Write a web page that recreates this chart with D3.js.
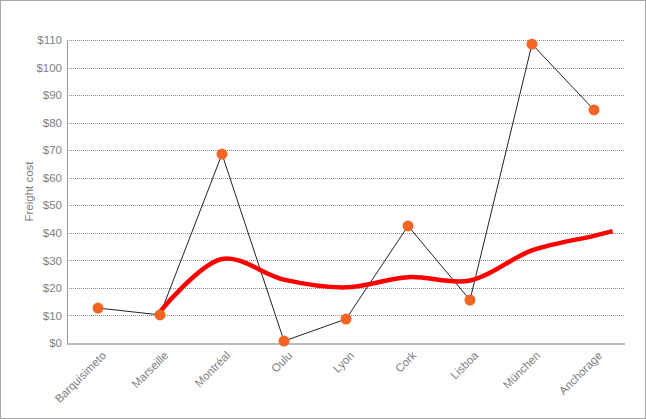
<!DOCTYPE html>
<html>
<head>
<meta charset="utf-8">
<script src="https://cdn.jsdelivr.net/npm/d3@7"></script>
<style>
    body { margin: 0; background: #fff; }
    svg { display: block; font-family: "Liberation Sans", Arial, sans-serif; }
</style>
</head>
<body>
<svg id="chart_svg" width="646" height="419"></svg>
<script>
// values
const cities = ["Barquisimeto", "Marseille", "Montréal", "Oulu", "Lyon", "Cork", "Lisboa", "München", "Anchorage"];
const freight = [12.7, 10.2, 68.6, 0.7, 8.7, 42.5, 15.6, 108.5, 84.6];
// red trend line: category position (index, last one runs a bit past Anchorage) and value
const trendIdx = [1, 2, 3, 4, 5, 6, 7, 8, 8.3];
const trend = [11.4, 30.5, 23.0, 20.2, 23.9, 22.7, 33.6, 38.9, 40.6];
const yTicks = [0, 10, 20, 30, 40, 50, 60, 70, 80, 90, 100, 110];

const svg = d3.select("#chart_svg");
const W = 646, H = 419;
const margin = { left: 67, right: 21, top: 40, bottom: 76 };
const plotw = W - margin.left - margin.right;
const ploth = H - margin.top - margin.bottom;

// outer frame
svg.append("rect")
    .attr("x", 0.5).attr("y", 0.5)
    .attr("width", W - 1).attr("height", H - 1)
    .attr("fill", "#fff")
    .attr("stroke", "#a8a8a8");

const g = svg.append("g")
    .attr("transform", "translate(" + margin.left + "," + margin.top + ")");

let x = d3.scaleBand().domain(cities).range([0, plotw]);
let y = d3.scaleLinear().domain([0, 110]).range([ploth, 0]);
let cx = function (d) { return x(d) + x.bandwidth() / 2; };
// index -> x, same spacing as the band centres
let xi = d3.scaleLinear().domain([0, 1]).range([cx(cities[0]), cx(cities[1])]);

// grid lines
g.selectAll(".grid")
    .data(yTicks.filter(function (d) { return d > 0; }))
    .enter().append("line")
    .attr("class", "grid")
    .attr("x1", 0).attr("x2", plotw)
    .attr("y1", function (d) { return Math.round(y(d)) + 0.5; })
    .attr("y2", function (d) { return Math.round(y(d)) + 0.5; })
    .attr("stroke", "#8a8a8a")
    .attr("stroke-dasharray", "1,1");

// y axis
const yAxis = g.append("g")
    .call(d3.axisLeft(y).tickValues(yTicks).tickSize(0).tickPadding(5)
        .tickFormat(function (d) { return "$" + d; }));
yAxis.select(".domain").attr("stroke", "#999").attr("d", "M0.5,0V" + ploth);
yAxis.selectAll("text").attr("fill", "#808080").style("font-size", "11.5px");

// x axis
const xAxis = g.append("g")
    .attr("transform", "translate(0," + ploth + ")")
    .call(d3.axisBottom(x).tickSize(0));
xAxis.select(".domain").attr("stroke", "#bbb").attr("stroke-width", 2).attr("d", "M0,1H" + plotw);
xAxis.selectAll("text")
    .attr("fill", "#808080")
    .style("font-size", "11.5px")
    .attr("text-anchor", "end")
    .attr("dy", 0)
    .attr("transform", "translate(7,11) rotate(-45)");

// axis title
g.append("text")
    .attr("transform", "translate(" + (-34) + "," + (ploth / 2) + ") rotate(-90)")
    .attr("text-anchor", "middle")
    .attr("fill", "#808080")
    .style("font-size", "11.5px")
    .text("Freight cost");

// black line through the points
let line = d3.line()
    .x(function (d, i) { return cx(cities[i]); })
    .y(function (d) { return y(d); });
g.append("path")
    .datum(freight)
    .attr("d", line)
    .attr("fill", "none")
    .attr("stroke", "#222")
    .attr("stroke-width", 1);

// red smoothed trend
let trendLine = d3.line()
    .x(function (d, i) { return xi(trendIdx[i]); })
    .y(function (d) { return y(d); })
    .curve(d3.curveCatmullRom.alpha(0.5));
g.append("path")
    .datum(trend)
    .attr("d", trendLine)
    .attr("fill", "none")
    .attr("stroke", "#ff0000")
    .attr("stroke-width", 4.5)
    .attr("stroke-linecap", "butt");

// dots
g.selectAll(".dot")
    .data(freight)
    .enter().append("circle")
    .attr("class", "dot")
    .attr("cx", function (d, i) { return cx(cities[i]); })
    .attr("cy", function (d) { return y(d); })
    .attr("r", 5.5)
    .attr("fill", "#f26522");
</script>
</body>
</html>
